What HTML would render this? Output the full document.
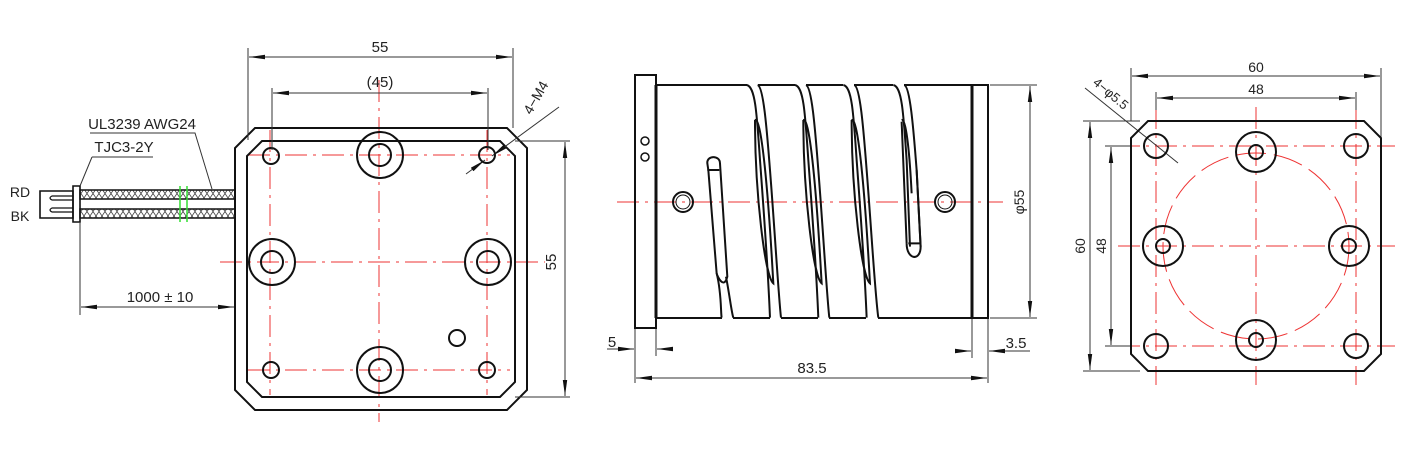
<!DOCTYPE html><html><head><style>html,body{margin:0;padding:0;background:#fff}svg{display:block}text{font-family:"Liberation Sans Narrow","Liberation Sans",sans-serif;fill:#222}</style></head><body>
<svg width="1410" height="460" viewBox="0 0 1410 460" xmlns="http://www.w3.org/2000/svg">
<defs>
<pattern id="h" width="6" height="9" patternUnits="userSpaceOnUse"><path d="M0 0L6 9M6 0L0 9" stroke="#444" stroke-width="0.8"/></pattern>
<marker id="a" viewBox="0 0 16 6" refX="16" refY="3" markerWidth="16" markerHeight="6" markerUnits="userSpaceOnUse" orient="auto-start-reverse"><path d="M0 0.8L16 3L0 5.2z" fill="#111"/></marker>
</defs>
<g stroke="#e33" stroke-width="1" fill="none" stroke-dasharray="22 6 3 6">
<line x1="248" y1="155" x2="510" y2="155"/><line x1="220" y1="262" x2="545" y2="262"/><line x1="248" y1="370" x2="510" y2="370"/>
<line x1="270" y1="130" x2="270" y2="395"/><line x1="379" y1="80" x2="379" y2="422"/><line x1="487" y1="130" x2="487" y2="395"/>
<line x1="617" y1="202" x2="1003" y2="202"/>
<line x1="1118" y1="146" x2="1395" y2="146"/><line x1="1118" y1="246" x2="1395" y2="246"/><line x1="1118" y1="346" x2="1395" y2="346"/>
<line x1="1156" y1="107" x2="1156" y2="385"/><line x1="1256" y1="107" x2="1256" y2="385"/><line x1="1356" y1="107" x2="1356" y2="385"/>
<circle cx="1256" cy="246" r="93" stroke-dasharray="30 8"/>
</g>
<g stroke="#111" stroke-width="2" fill="none">
<path d="M255 128H507L527 148V390L507 410H255L235 390V148Z"/>
<path d="M262 141H500L515 156V382L500 397H262L247 382V156Z"/>
<circle cx="271" cy="156" r="8"/><circle cx="487" cy="155" r="8"/><circle cx="271" cy="370" r="8"/><circle cx="487" cy="370" r="8"/>
<circle cx="380" cy="155" r="23"/><circle cx="380" cy="155" r="11"/>
<circle cx="380" cy="370" r="23"/><circle cx="380" cy="370" r="11"/>
<circle cx="272" cy="262" r="23"/><circle cx="272" cy="262" r="11"/>
<circle cx="488" cy="262" r="23"/><circle cx="488" cy="262" r="11"/>
<circle cx="457" cy="338" r="8"/>
<path d="M40 191H73V218H40Z" stroke-width="1.6"/><path d="M73 186H80V222H73Z" stroke-width="1.6"/>
<path d="M73 196H52Q48 198 52 200H73M73 208H52Q48 210 52 212H73" stroke-width="1.2"/>
</g>
<rect x="80" y="190" width="155" height="9" fill="url(#h)" stroke="#111" stroke-width="1.5"/>
<rect x="80" y="209" width="155" height="9" fill="url(#h)" stroke="#111" stroke-width="1.5"/>
<g stroke="#3d3" stroke-width="1.5"><line x1="180" y1="186" x2="180" y2="222"/><line x1="187" y1="186" x2="187" y2="222"/></g>
<g stroke="#333" stroke-width="1" fill="none">
<line x1="248" y1="48" x2="248" y2="140"/><line x1="513" y1="48" x2="513" y2="128"/>
<line x1="249" y1="57" x2="512" y2="57" marker-start="url(#a)" marker-end="url(#a)"/>
<line x1="272" y1="88" x2="272" y2="150"/><line x1="488" y1="88" x2="488" y2="150"/>
<line x1="273" y1="93" x2="487" y2="93" marker-start="url(#a)" marker-end="url(#a)"/>
<line x1="515" y1="141" x2="570" y2="141"/><line x1="515" y1="397" x2="570" y2="397"/>
<line x1="565" y1="142" x2="565" y2="396" marker-start="url(#a)" marker-end="url(#a)"/>
<line x1="466" y1="174" x2="485" y2="160" marker-end="url(#a)"/><line x1="503" y1="148" x2="559" y2="107"/><line x1="503" y1="148" x2="492" y2="156" marker-end="url(#a)"/>
<path d="M90 133H195L212 189"/><path d="M92 157H153M92 157L80 186"/>
<line x1="80" y1="222" x2="80" y2="315"/>
<line x1="81" y1="307" x2="234" y2="307" marker-start="url(#a)" marker-end="url(#a)"/>
<line x1="990" y1="85" x2="1037" y2="85"/><line x1="990" y1="318" x2="1037" y2="318"/>
<line x1="1030" y1="86" x2="1030" y2="317" marker-start="url(#a)" marker-end="url(#a)"/>
<line x1="635" y1="328" x2="635" y2="383"/><line x1="656" y1="318" x2="656" y2="356"/>
<line x1="607" y1="349" x2="634" y2="349" marker-end="url(#a)"/><line x1="673" y1="349" x2="657" y2="349" marker-end="url(#a)"/>
<line x1="972" y1="318" x2="972" y2="358"/><line x1="988" y1="318" x2="988" y2="383"/>
<line x1="956" y1="351" x2="971" y2="351" marker-end="url(#a)"/><line x1="1030" y1="351" x2="989" y2="351" marker-end="url(#a)"/>
<line x1="636" y1="378" x2="987" y2="378" marker-start="url(#a)" marker-end="url(#a)"/>
<line x1="1131" y1="68" x2="1131" y2="121"/><line x1="1381" y1="68" x2="1381" y2="140"/>
<line x1="1132" y1="76" x2="1380" y2="76" marker-start="url(#a)" marker-end="url(#a)"/>
<line x1="1156" y1="92" x2="1156" y2="110"/><line x1="1356" y1="92" x2="1356" y2="110"/>
<line x1="1157" y1="98" x2="1355" y2="98" marker-start="url(#a)" marker-end="url(#a)"/>
<line x1="1083" y1="121" x2="1140" y2="121"/><line x1="1083" y1="371" x2="1140" y2="371"/>
<line x1="1090" y1="122" x2="1090" y2="370" marker-start="url(#a)" marker-end="url(#a)"/>
<line x1="1105" y1="146" x2="1130" y2="146"/><line x1="1105" y1="346" x2="1130" y2="346"/>
<line x1="1111" y1="147" x2="1111" y2="345" marker-start="url(#a)" marker-end="url(#a)"/>
<line x1="1085" y1="88" x2="1178" y2="163"/>
</g>
<g stroke="#111" stroke-width="2" fill="none">
<rect x="635" y="75" width="21" height="253"/>
<path d="M656 85H747M758 85H795M806 85H843M854 85H893M904 85H972M656 318H722M733 318H770M781 318H818M829 318H866M878 318H972"/>
<line x1="656" y1="85" x2="656" y2="318" stroke-width="3"/>
<rect x="972" y="85" width="16" height="233"/><line x1="972" y1="85" x2="972" y2="318" stroke-width="3"/>
<circle cx="645" cy="141" r="4" stroke-width="1.5"/><circle cx="645" cy="157" r="4" stroke-width="1.5"/>
<circle cx="683" cy="202" r="10"/><circle cx="683" cy="202" r="7" stroke-width="1"/>
<circle cx="945" cy="202" r="10"/><circle cx="945" cy="202" r="7" stroke-width="1"/>
<g transform="translate(600 60) scale(0.3333)" stroke-width="6">
<path d="M440 75C465 80 470 150 480 300C495 500 505 650 510 773M473 75C490 80 500 200 510 330C525 520 535 700 543 773M465 180C485 170 505 400 520 670C495 650 465 400 465 180"/>
<path d="M585 75C610 80 615 150 625 300C640 500 650 650 655 773M618 75C635 80 645 200 655 330C670 520 680 700 688 773M610 180C630 170 650 400 665 670C640 650 610 400 610 180"/>
<path d="M730 75C755 80 760 150 770 300C785 500 795 650 800 773M763 75C780 80 790 200 800 330C815 520 825 700 835 773M755 180C775 170 795 400 810 670C785 650 755 400 755 180"/>
<path d="M880 75C905 80 910 150 920 300L930 560M913 75C930 80 940 200 950 330L962 560M905 180C920 175 930 300 935 400"/>
<path d="M350 640C365 700 362 760 365 773M378 650C388 700 395 760 400 773"/>
<path d="M322 310C320 285 360 285 360 310L382 650C372 690 352 650 350 640L325 330Z"/>
<path d="M920 550C920 600 962 605 962 560L950 330M920 550L905 185"/>
<path d="M322 330H358M925 550H960"/>
</g>
<path d="M1148 121H1364L1381 138V354L1364 371H1148L1131 354V138Z"/>
<circle cx="1156" cy="146" r="12"/><circle cx="1356" cy="146" r="12"/><circle cx="1156" cy="346" r="12"/><circle cx="1356" cy="346" r="12"/>
<circle cx="1256" cy="152" r="20"/><circle cx="1256" cy="152" r="7"/>
<circle cx="1256" cy="340" r="20"/><circle cx="1256" cy="340" r="7"/>
<circle cx="1163" cy="246" r="20"/><circle cx="1163" cy="246" r="7"/>
<circle cx="1349" cy="246" r="20"/><circle cx="1349" cy="246" r="7"/>
</g>
<g font-size="15" text-anchor="middle">
<text x="380" y="52">55</text><text x="380" y="87">(45)</text>
<text transform="translate(556 262) rotate(-90)">55</text>
<text transform="translate(540 100) rotate(-60)" font-size="14">4−M4</text>
<text x="142" y="129">UL3239  AWG24</text>
<text x="124" y="152">TJC3-2Y</text>
<text x="20" y="197" font-size="14">RD</text><text x="20" y="221" font-size="14">BK</text>
<text x="160" y="302">1000 ± 10</text>
<text transform="translate(1024 202) rotate(-90)" font-size="14">φ55</text>
<text x="612" y="347">5</text><text x="1016" y="348">3.5</text><text x="812" y="373">83.5</text>
<text x="1256" y="72" font-size="14">60</text><text x="1256" y="94" font-size="14">48</text>
<text transform="translate(1085 246) rotate(-90)" font-size="14">60</text>
<text transform="translate(1106 246) rotate(-90)" font-size="14">48</text>
<text transform="translate(1108 97) rotate(40)" font-size="13">4−φ5.5</text>
</g>
</svg></body></html>
